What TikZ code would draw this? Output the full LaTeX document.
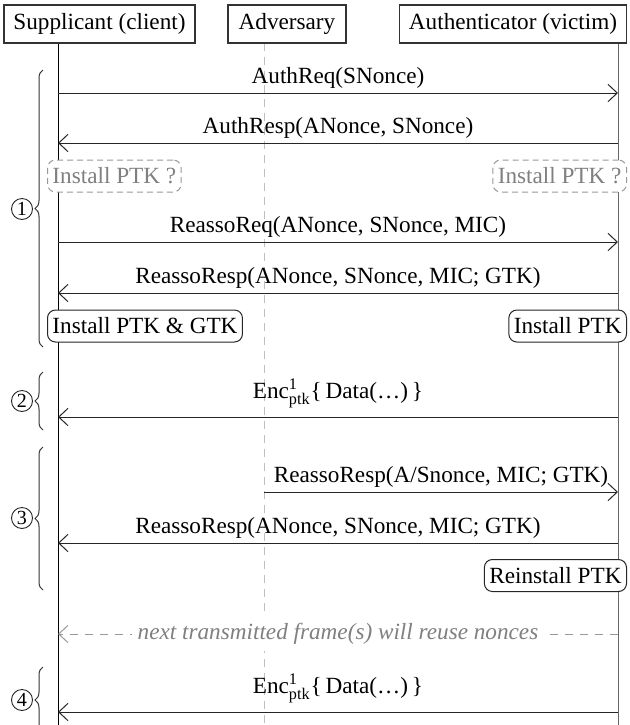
\documentclass[tikz,border=0pt]{standalone}
\usepackage{fontspec}
\setmainfont{Liberation Serif}
\usepackage{amsmath}
\usetikzlibrary{arrows.meta,decorations.pathreplacing}
\tikzset{
  actor/.style={draw=black!80, line width=0.6pt, minimum height=19pt, inner xsep=3pt, inner ysep=0pt},
  statebox/.style={draw=black!85, rounded corners=4pt, fill=white, minimum height=16pt, inner xsep=2.5pt, inner ysep=0pt, line width=0.5pt},
  qbox/.style={statebox, draw=black!40, dash pattern=on 3pt off 2pt, text=black!50},
  msg/.style={draw=black!85, line width=0.5pt, -{Straight Barb[length=4.6pt,width=8.6pt]}},
  dmsg/.style={msg, draw=black!40, dash pattern=on 4pt off 3.5pt},
  lbl/.style={anchor=base, yshift=5pt},
  enclbl/.style={anchor=base, yshift=9.3pt},
  lifeline/.style={line width=0.5pt},
  advline/.style={line width=0.5pt, draw=black!25, dash pattern=on 4pt off 3pt},
  brc/.style={decorate, decoration={brace, amplitude=4pt}, draw=black!80, line width=0.5pt},
  num/.style={circle, draw=black!85, line width=0.45pt, minimum size=10.5pt, inner sep=0pt, font=\fontsize{10}{10}\selectfont},
}
\newcommand{\encdata}{Enc$^{\text{1}}_{\text{ptk}}$\{\,Data(\dots)\,\}}
\begin{document}
\begin{tikzpicture}[x=0.5pt,y=-0.5pt, font=\fontsize{11.6}{14}\selectfont]
\useasboundingbox (0,0) rectangle (629,725);
% lifelines
\coordinate (sT) at (58,43);  \coordinate (sB) at (58,730);
\coordinate (vT) at (264,43); \coordinate (vB) at (264,730);
\coordinate (aT) at (618,43); \coordinate (aB) at (618,730);
\draw[lifeline] (sT) -- (sB);
\draw[advline] (vT) -- (vB);
\draw[lifeline, draw=black!60] (aT) -- (aB);
% actors
\node[actor, minimum width=95.5pt] (sup) at (99.5,24) {Supplicant (client)};
\node[actor, minimum width=59pt] (adv) at (287,24) {Adversary};
\node[actor, minimum width=113.5pt] (aut) at (513,24) {Authenticator (victim)};
% message end points
\foreach \n/\y in {1/93,2/143,3/242,4/293,5/417,6/492,7/543,8/634,9/712}{
  \coordinate (s\n) at (58,\y);
  \coordinate (v\n) at (264,\y);
  \coordinate (a\n) at (618,\y);
}
\draw[msg] (s1) -- node[lbl, midway] {AuthReq(SNonce)} (a1);
\draw[msg] (a2) -- node[lbl, midway] {AuthResp(ANonce, SNonce)} (s2);
\draw[msg] (s3) -- node[lbl, midway] {ReassoReq(ANonce, SNonce, MIC)} (a3);
\draw[msg] (a4) -- node[lbl, midway] {ReassoResp(ANonce, SNonce, MIC; GTK)} (s4);
\draw[msg] (a5) -- node[enclbl, midway] {\encdata} (s5);
\draw[msg] (v6) -- node[lbl, midway] {ReassoResp(A/Snonce, MIC; GTK)} (a6);
\draw[msg] (a7) -- node[lbl, midway] {ReassoResp(ANonce, SNonce, MIC; GTK)} (s7);
\draw[dmsg] (a8) -- node[midway, fill=white, inner xsep=3pt, text=black!50, font=\itshape\fontsize{11.6}{14}\selectfont] {next transmitted frame(s) will reuse nonces} (s8);
\draw[msg] (a9) -- node[enclbl, midway] {\encdata} (s9);
% state boxes
\node[qbox, anchor=west] (q1) at (47,176) {Install PTK ?};
\node[qbox, anchor=east] (q2) at (627,176) {Install PTK ?};
\node[statebox, anchor=west] (i1) at (47,326) {Install PTK \& GTK};
\node[statebox, anchor=east] (i2) at (627,326) {Install PTK};
\node[statebox, anchor=east] (r1) at (627,575.5) {Reinstall PTK};
% braces
\coordinate (b1a) at (43,347); \coordinate (b1b) at (43,70);
\coordinate (b2a) at (43,430); \coordinate (b2b) at (43,372);
\coordinate (b3a) at (43,590); \coordinate (b3b) at (43,447);
\coordinate (b4a) at (43,733); \coordinate (b4b) at (43,667);
\draw[brc] (b1a) -- (b1b);
\draw[brc] (b2a) -- (b2b);
\draw[brc] (b3a) -- (b3b);
\draw[brc] (b4a) -- (b4b);
\node[num] (n1) at (22,209) {1};
\node[num] (n2) at (22,401) {2};
\node[num] (n3) at (22,518) {3};
\node[num] (n4) at (22,700) {4};
\end{tikzpicture}
\end{document}
